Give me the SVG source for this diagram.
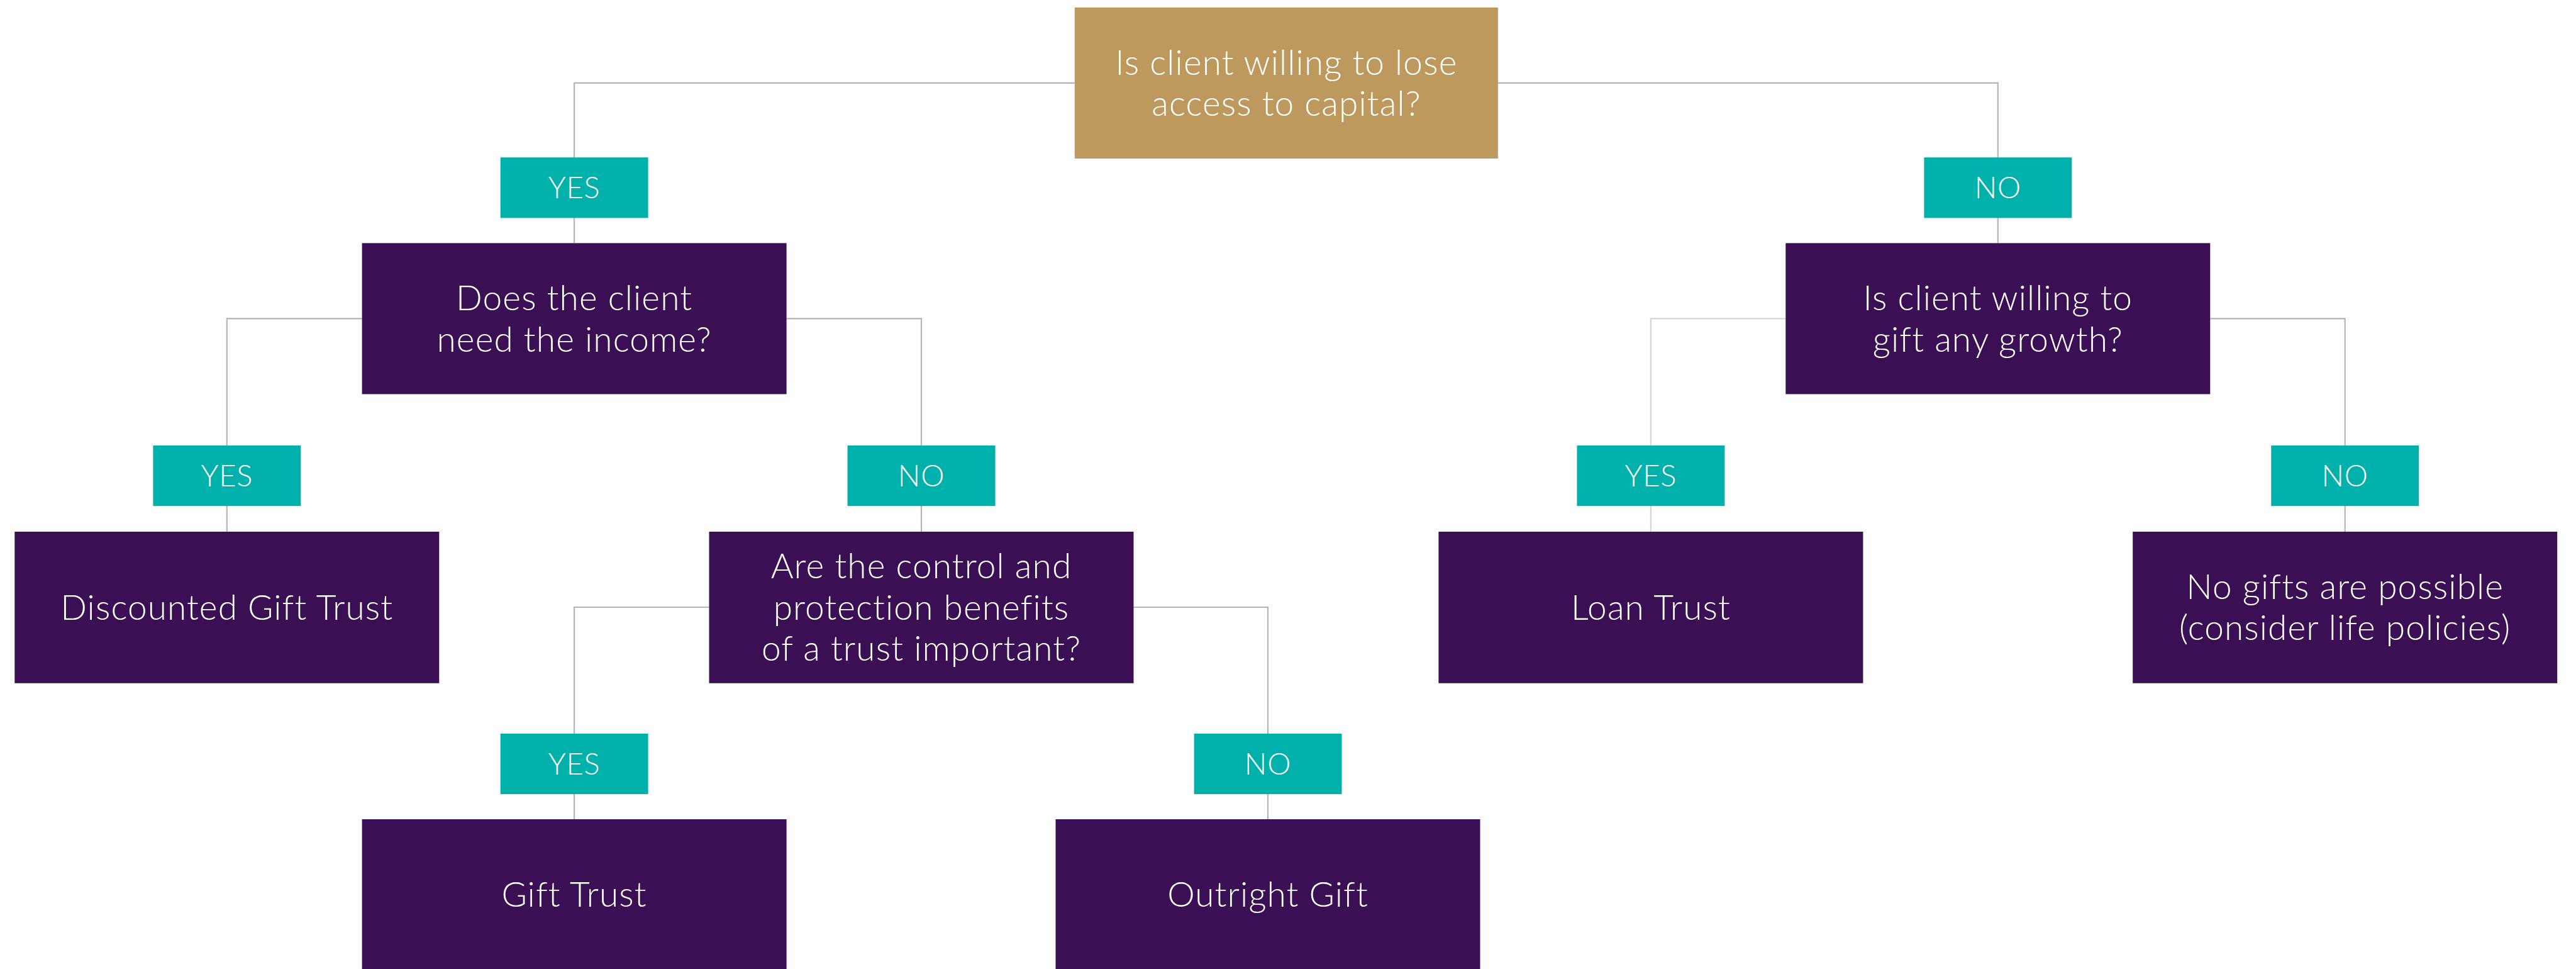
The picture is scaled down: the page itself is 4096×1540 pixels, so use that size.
<svg xmlns="http://www.w3.org/2000/svg" width="4096" height="1540" viewBox="0 0 4096 1540">
<style>
.q{fill:#3a0f54}
.g{fill:#bd995e}
.t{fill:#00b0aa}
.txt{font-family:Lato,"Open Sans","Liberation Sans",sans-serif;font-weight:300;font-size:55px;letter-spacing:1.1px;fill:#ffffff;text-anchor:middle}
.lbl{font-family:Lato,"Open Sans","Liberation Sans",sans-serif;font-weight:300;font-size:47px;letter-spacing:0.8px;fill:#ffffff;text-anchor:middle}
.c{fill:none;stroke:#b4b4b4;stroke-width:2.2}
.cl{fill:none;stroke:#d6d6d6;stroke-width:2.2}
</style>
<rect width="4096" height="1540" fill="#ffffff"/>
<g id="connectors">
<path class="c" d="M1708.8,131.9 H913.1 V386.4"/>
<path class="c" d="M2381.9,131.9 H3176.8 V386.4"/>
<path class="c" d="M575.6,506.3 H360.8 V845"/>
<path class="c" d="M1250.6,506.3 H1465 V845"/>
<path class="cl" d="M2839.3,506.3 H2624.9 V845"/>
<path class="c" d="M3514.3,506.3 H3728.7 V845"/>
<path class="c" d="M1127.5,965 H913.1 V1302"/>
<path class="c" d="M1802.5,965 H2016 V1302"/>
</g>
<g id="n-root">
<rect class="g" x="1708.8" y="11.9" width="673.1" height="240"/>
<text class="txt" x="2045.4" y="118.8">Is client willing to lose</text>
<text class="txt" x="2045.4" y="184.3">access to capital?</text>
</g>
<g id="l-yes1">
<rect class="t" x="795.7" y="250.2" width="234.9" height="96.2"/>
<text class="lbl" x="913.1" y="315.2">YES</text>
</g>
<g id="l-no1">
<rect class="t" x="3059.4" y="250.2" width="234.9" height="96.2"/>
<text class="lbl" x="3176.8" y="315.2">NO</text>
</g>
<g id="n-income">
<rect class="q" x="575.6" y="386.4" width="675" height="240"/>
<text class="txt" x="913.1" y="493.2">Does the client</text>
<text class="txt" x="913.1" y="558.7">need the income?</text>
</g>
<g id="n-growth">
<rect class="q" x="2839.3" y="386.4" width="675" height="240"/>
<text class="txt" x="3176.8" y="493.2">Is client willing to</text>
<text class="txt" x="3176.8" y="558.7">gift any growth?</text>
</g>
<g id="l-yes2">
<rect class="t" x="243.4" y="708" width="234.9" height="96.2"/>
<text class="lbl" x="360.8" y="773">YES</text>
</g>
<g id="l-no2">
<rect class="t" x="1347.6" y="708" width="234.9" height="96.2"/>
<text class="lbl" x="1465" y="773">NO</text>
</g>
<g id="l-yes3">
<rect class="t" x="2507.5" y="708" width="234.9" height="96.2"/>
<text class="lbl" x="2624.9" y="773">YES</text>
</g>
<g id="l-no3">
<rect class="t" x="3611.3" y="708" width="234.9" height="96.2"/>
<text class="lbl" x="3728.7" y="773">NO</text>
</g>
<g id="n-dgt">
<rect class="q" x="23.3" y="845" width="675" height="240.8"/>
<text class="txt" x="360.8" y="984.6">Discounted Gift Trust</text>
</g>
<g id="n-control">
<rect class="q" x="1127.5" y="845" width="675" height="240.8"/>
<text class="txt" x="1465" y="919.1">Are the control and</text>
<text class="txt" x="1465" y="984.6">protection benefits</text>
<text class="txt" x="1465" y="1050.1">of a trust important?</text>
</g>
<g id="n-loan">
<rect class="q" x="2287.4" y="845" width="675" height="240.8"/>
<text class="txt" x="2624.9" y="984.6">Loan Trust</text>
</g>
<g id="n-nogifts">
<rect class="q" x="3391.2" y="845" width="675" height="240.8"/>
<text class="txt" x="3728.7" y="951.8">No gifts are possible</text>
<text class="txt" x="3728.7" y="1017.4">(consider life policies)</text>
</g>
<g id="l-yes4">
<rect class="t" x="795.7" y="1165.9" width="234.9" height="96.2"/>
<text class="lbl" x="913.1" y="1230.9">YES</text>
</g>
<g id="l-no4">
<rect class="t" x="1898.6" y="1165.9" width="234.9" height="96.2"/>
<text class="lbl" x="2016" y="1230.9">NO</text>
</g>
<g id="n-gift">
<rect class="q" x="575.6" y="1302" width="675" height="238"/>
<text class="txt" x="913.1" y="1440.6">Gift Trust</text>
</g>
<g id="n-outright">
<rect class="q" x="1678.5" y="1302" width="675" height="238"/>
<text class="txt" x="2016" y="1440.6">Outright Gift</text>
</g>
</svg>
